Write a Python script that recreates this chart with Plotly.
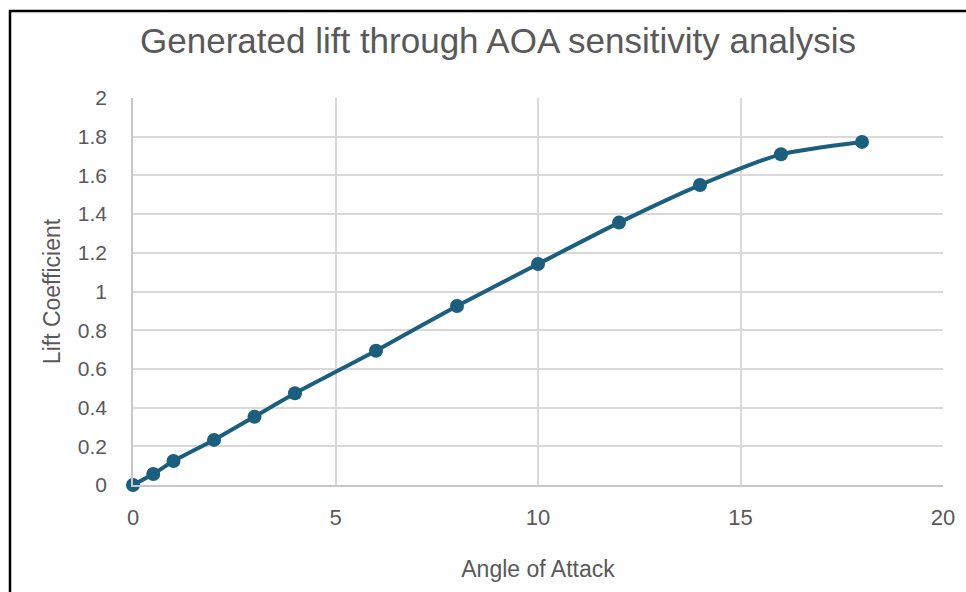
import plotly.graph_objects as go

# Data
aoa = [0, 0.5, 1, 2, 3, 4, 6, 8, 10, 12, 14, 16, 18]
lift_coefficient = [0.0, 0.057, 0.124, 0.233, 0.353, 0.474, 0.694, 0.925, 1.142, 1.356, 1.550, 1.709, 1.773]
x_ticks = [0, 5, 10, 15, 20]
y_ticks = [0, 0.2, 0.4, 0.6, 0.8, 1, 1.2, 1.4, 1.6, 1.8, 2]
y_tick_labels = ["0", "0.2", "0.4", "0.6", "0.8", "1", "1.2", "1.4", "1.6", "1.8", "2"]

TEXT = "#595959"
GRID = "#d9d9d9"
LINE = "#1b5e7e"
FONT = "Liberation Sans, Arial, sans-serif"

fig = go.Figure()
fig.add_trace(go.Scatter(
    x=aoa, y=lift_coefficient, mode="lines+markers",
    line=dict(color=LINE, width=4, shape="spline", smoothing=0.6),
    marker=dict(color=LINE, size=14),
    showlegend=False, cliponaxis=False,
))

fig.update_layout(
    width=966, height=592,
    margin=dict(l=133, r=23, t=98, b=107),
    paper_bgcolor="white", plot_bgcolor="white",
    font=dict(family=FONT, color=TEXT),
    title=dict(text="Generated lift through AOA sensitivity analysis",
               x=498/966, xanchor="center", y=1-41/592, yanchor="middle",
               font=dict(size=35, color=TEXT, family=FONT)),
    xaxis=dict(range=[0, 20], tickvals=x_ticks, showgrid=True, gridcolor=GRID, gridwidth=1.5,
               zeroline=False, showline=True, linecolor="#c8c8c8", linewidth=1.5,
               ticks="", ticklabelstandoff=12,
               tickfont=dict(size=22, color=TEXT),
               title=dict(text="Angle of Attack", font=dict(size=23, color=TEXT), standoff=32)),
    yaxis=dict(range=[0, 2], tickvals=y_ticks, ticktext=y_tick_labels, showgrid=True,
               gridcolor=GRID, gridwidth=1.5, zeroline=False, showline=True,
               linecolor="#c8c8c8", linewidth=1.5, ticks="", ticklabelstandoff=20,
               tickfont=dict(size=21, color=TEXT),
               title=dict(text="Lift Coefficient", font=dict(size=23, color=TEXT), standoff=11)),
)

# chart-area border (only left/top edges visible in the cropped frame)
fig.add_shape(type="rect", xref="paper", yref="paper",
              x0=(10-133)/810, x1=1.2, y0=-0.5, y1=(485-11)/387,
              line=dict(color="black", width=2.5), layer="above")

fig.write_html("out.html")
